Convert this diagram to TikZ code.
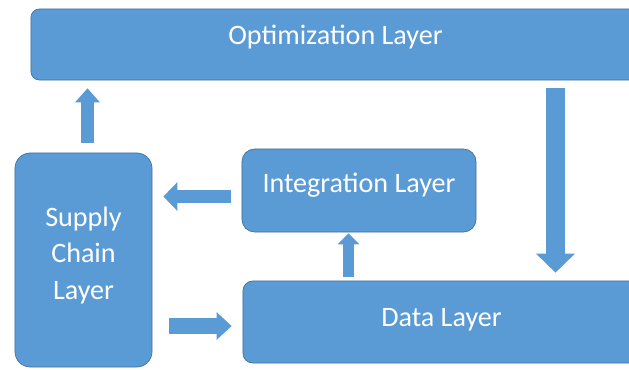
\documentclass[tikz,border=0pt]{standalone}
\usepackage{fontspec}
\setmainfont{Carlito}
\usetikzlibrary{arrows.meta,positioning,calc}
\definecolor{layerblue}{RGB}{91,155,213}
\definecolor{layeredge}{RGB}{65,113,156}

\begin{document}
\begin{tikzpicture}[x=0.025cm, y=-0.025cm,
    layer/.style={draw=layeredge, line width=0.5pt, fill=layerblue, text=white,
                  font=\fontsize{20}{26}\selectfont, align=center, inner sep=0pt},
    flow/.style n args={3}{draw=layerblue, line width=#1,
                  -{Triangle[width=#2, length=#3, line width=0pt, fill=layerblue]}}]

        \clip (0,0) rectangle (629,369);

        % Layers
        \node[layer, rounded corners=6pt, minimum width=15.225cm, minimum height=1.775cm,
              text depth=14pt] (opt) at (335.5,44.5) {Optimization Layer};
        \node[layer, rounded corners=11pt, minimum width=3.425cm, minimum height=5.35cm,
              text depth=10pt] (supply) at (83.5,260) {Supply\\Chain\\Layer};
        \node[layer, rounded corners=9pt, minimum width=5.85cm, minimum height=2.075cm,
              text depth=11pt] (integ) at (359,190.5) {Integration Layer};
        \node[layer, rounded corners=7pt, minimum width=9.925cm, minimum height=2.05cm,
              text depth=7pt] (data) at (441.5,322) {Data Layer};

        % Block arrows
        \draw[flow={9.3pt}{17.8pt}{10pt}] ($(supply.north)+(4,-10)$) -- ($(supply.north |- opt.south)+(4,8)$);
        \draw[flow={9.3pt}{20.6pt}{10pt}] ($(integ.west)+(-11,6)$) -- ($(integ.west -| supply.east)+(11,6)$);
        \draw[flow={10.7pt}{19.9pt}{10.7pt}] ($(data.west -| supply.east)+(17,4)$) -- ($(data.west)+(-11,4)$);
        \draw[flow={7.8pt}{15.6pt}{7.8pt}] ($(integ.south |- data.north)+(-10.5,-4)$) -- ($(integ.south)+(-10.5,1)$);
        \draw[flow={13.5pt}{27.7pt}{13.5pt}] ($(data.north |- opt.south)+(114,8)$) -- ($(data.north)+(114,-8)$);

\end{tikzpicture}
\end{document}
